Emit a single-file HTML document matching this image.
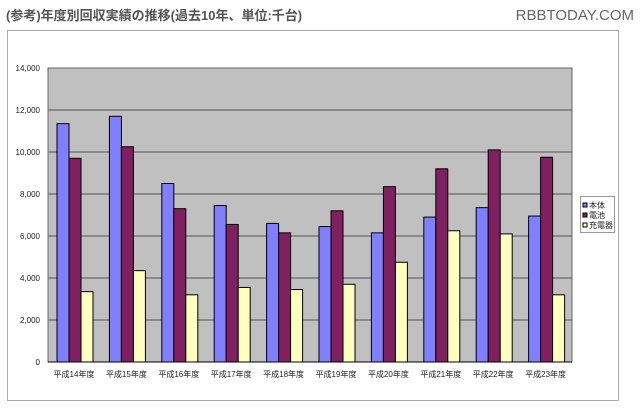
<!DOCTYPE html>
<html><head><meta charset="utf-8"><style>
body{margin:0;background:#fff;width:640px;height:411px;overflow:hidden}
</style></head><body>
<svg width="640" height="411" xmlns="http://www.w3.org/2000/svg" font-family="'Liberation Sans','Noto Sans CJK JP',sans-serif">
<text x="6" y="20" font-size="13" fill="#555" font-weight="bold">(参考)年度別回収実績の推移(過去10年、単位:千台)</text>
<text x="634" y="20" font-size="15" fill="#666" text-anchor="end">RBBTODAY.COM</text>
<rect x="7.5" y="30.5" width="611" height="370" fill="#fff" stroke="#aaa"/>
<rect x="48" y="68" width="524" height="294" fill="#c0c0c0" stroke="#666"/>
<g stroke="#555" stroke-width="1">
<line x1="48" y1="110" x2="572" y2="110"/><line x1="48" y1="152" x2="572" y2="152"/>
<line x1="48" y1="194" x2="572" y2="194"/><line x1="48" y1="236" x2="572" y2="236"/>
<line x1="48" y1="278" x2="572" y2="278"/><line x1="48" y1="320" x2="572" y2="320"/>
<line x1="48" y1="362" x2="572" y2="362" stroke="#000"/>
</g>
<g font-size="8" fill="#222" text-anchor="end">
<text x="40" y="71">14,000</text><text x="40" y="113">12,000</text><text x="40" y="155">10,000</text>
<text x="40" y="197">8,000</text><text x="40" y="239">6,000</text><text x="40" y="281">4,000</text>
<text x="40" y="323">2,000</text><text x="40" y="365">0</text>
</g>
<g id="bars" stroke="#000" stroke-width="1"></g>
<g id="lbl" font-size="8" fill="#222" text-anchor="middle"></g>
<rect x="580.5" y="196.5" width="34" height="36" fill="#fff" stroke="#999"/>
<g font-size="8" fill="#222">
<rect x="583" y="203" width="4" height="4" fill="#8080ff" stroke="#000"/><text x="589" y="208">本体</text>
<rect x="583" y="213" width="4" height="4" fill="#802060" stroke="#000"/><text x="589" y="218">電池</text>
<rect x="583" y="223" width="4" height="4" fill="#ffffc0" stroke="#000"/><text x="589" y="228">充電器</text>
</g>
<script>
var d=[[11350,9700,3350],[11700,10250,4350],[8500,7300,3200],[7450,6550,3550],[6600,6150,3450],[6450,7200,3700],[6150,8350,4750],[6900,9200,6250],[7350,10100,6100],[6950,9750,3200]];
var c=["#8080ff","#802060","#ffffc0"],ns="http://www.w3.org/2000/svg",g=document.getElementById("bars"),l=document.getElementById("lbl");
var names=["平成14年度","平成15年度","平成16年度","平成17年度","平成18年度","平成19年度","平成20年度","平成21年度","平成22年度","平成23年度"];
d.forEach(function(v,i){var x0=48+i*52.4+9;v.forEach(function(val,j){var h=val*0.021;var r=document.createElementNS(ns,"rect");r.setAttribute("x",x0+j*12);r.setAttribute("y",362-h);r.setAttribute("width",12);r.setAttribute("height",h);r.setAttribute("fill",c[j]);g.appendChild(r);});
var t=document.createElementNS(ns,"text");t.setAttribute("x",48+i*52.4+26);t.setAttribute("y",377);t.textContent=names[i];l.appendChild(t);});
</script>
</svg>
</body></html>
